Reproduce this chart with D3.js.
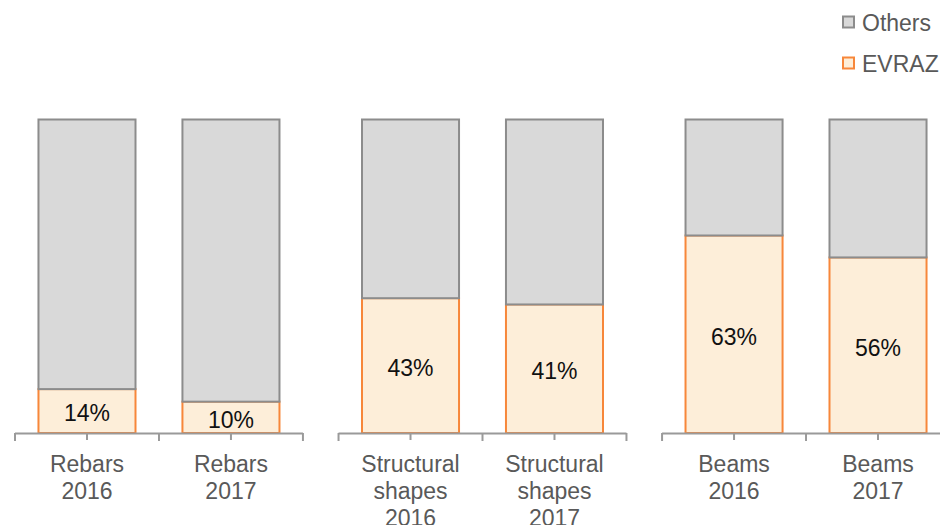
<!DOCTYPE html>
<html>
<head>
<meta charset="utf-8">
<script src="https://cdn.jsdelivr.net/npm/d3@7"></script>
<style>
  html, body { margin: 0; padding: 0; background: #fff; }
  svg { display: block; font-family: "Liberation Sans", Arial, sans-serif; }
</style>
</head>
<body>
<svg id="chart" width="940" height="525"></svg>
<script>
// Product groups and years shown in each panel
const products = ["Rebars", "Structural shapes", "Beams"];
const years = ["2016", "2017"];
// EVRAZ market share (%) per product, in year order
const evrazShare = [[14, 10], [43, 41], [63, 56]];
// Remainder held by other producers (%)
const othersShare = [[86, 90], [57, 59], [37, 44]];
const legendLabels = ["Others", "EVRAZ"];

const colors = {
  othersFill: "#d9d9d9", othersStroke: "#8c8c8c",
  evrazFill: "#fdeed9", evrazStroke: "#f7873a",
  axis: "#9a9a9a", label: "#595959", value: "#111111"
};

const svg = d3.select("#chart");
const baseY = 433;
const fontSize = 23;

// one band per product panel
const panelX = d3.scaleBand().domain(products).range([15, 950]).paddingInner(0.11).paddingOuter(0);
const y = d3.scaleLinear().domain([0, 100]).range([baseY, 119.5]);

products.forEach((prod, pi) => {
  const x0 = panelX(prod);
  const w = panelX.bandwidth();
  const x = d3.scaleBand().domain(years).range([0, w]).paddingInner(0.326).paddingOuter(0.163);
  const step = x.step();
  const g = svg.append("g").attr("transform", `translate(${x0},0)`);

  const rows = years.map((yr, i) => ({ yr, evraz: evrazShare[pi][i], others: othersShare[pi][i] }));

  // EVRAZ segment
  g.selectAll("rect.evraz").data(rows).join("rect")
    .attr("class", "evraz")
    .attr("x", d => x(d.yr)).attr("width", x.bandwidth())
    .attr("y", d => y(d.evraz)).attr("height", d => y(0) - y(d.evraz))
    .attr("fill", colors.evrazFill).attr("stroke", colors.evrazStroke).attr("stroke-width", 2);

  // Others segment stacked above
  g.selectAll("rect.others").data(rows).join("rect")
    .attr("class", "others")
    .attr("x", d => x(d.yr)).attr("width", x.bandwidth())
    .attr("y", d => y(d.evraz + d.others)).attr("height", d => y(d.evraz) - y(d.evraz + d.others))
    .attr("fill", colors.othersFill).attr("stroke", colors.othersStroke).attr("stroke-width", 2);

  // value labels centred in the EVRAZ segment
  g.selectAll("text.val").data(rows).join("text")
    .attr("class", "val")
    .attr("x", d => x(d.yr) + x.bandwidth() / 2)
    .attr("y", d => (y(0) + y(d.evraz)) / 2)
    .attr("dy", "0.45em")
    .attr("text-anchor", "middle")
    .attr("font-size", fontSize)
    .attr("fill", colors.value)
    .text(d => d.evraz + "%");

  // category axis: baseline, boundary ticks and centre ticks
  const axisEnd = pi === products.length - 1 ? 940 - x0 : w;
  g.append("line").attr("x1", 0).attr("x2", axisEnd).attr("y1", baseY + 0.5).attr("y2", baseY + 0.5)
    .attr("stroke", colors.axis).attr("stroke-width", 2);
  const boundaries = d3.range(years.length + 1).map(i => i * step);
  g.selectAll("line.bt").data(boundaries).join("line")
    .attr("x1", d => d).attr("x2", d => d).attr("y1", baseY).attr("y2", baseY + 8)
    .attr("stroke", colors.axis).attr("stroke-width", 2);
  g.selectAll("line.ct").data(years).join("line")
    .attr("x1", d => x(d) + x.bandwidth() / 2).attr("x2", d => x(d) + x.bandwidth() / 2)
    .attr("y1", baseY).attr("y2", baseY + 7)
    .attr("stroke", colors.axis).attr("stroke-width", 2);

  // category labels, wrapped word by word
  const words = prod.split(" ");
  years.forEach(yr => {
    const lines = [...words, yr];
    const t = g.append("text")
      .attr("text-anchor", "middle")
      .attr("font-size", fontSize)
      .attr("fill", colors.label);
    lines.forEach((ln, li) => {
      t.append("tspan")
        .attr("x", x(yr) + x.bandwidth() / 2)
        .attr("y", 472 + li * 27)
        .text(ln);
    });
  });
});

// legend
const legend = svg.append("g");
const legendStyles = [
  { fill: colors.othersFill, stroke: colors.othersStroke },
  { fill: colors.evrazFill, stroke: colors.evrazStroke }
];
legendLabels.forEach((lab, i) => {
  const ly = 22.5 + i * 41;
  legend.append("rect")
    .attr("x", 843).attr("y", ly - 6).attr("width", 11).attr("height", 11)
    .attr("fill", legendStyles[i].fill).attr("stroke", legendStyles[i].stroke).attr("stroke-width", 2);
  legend.append("text")
    .attr("x", 862).attr("y", ly).attr("dy", "0.36em")
    .attr("font-size", fontSize).attr("fill", colors.label)
    .text(lab);
});
</script>
</body>
</html>
